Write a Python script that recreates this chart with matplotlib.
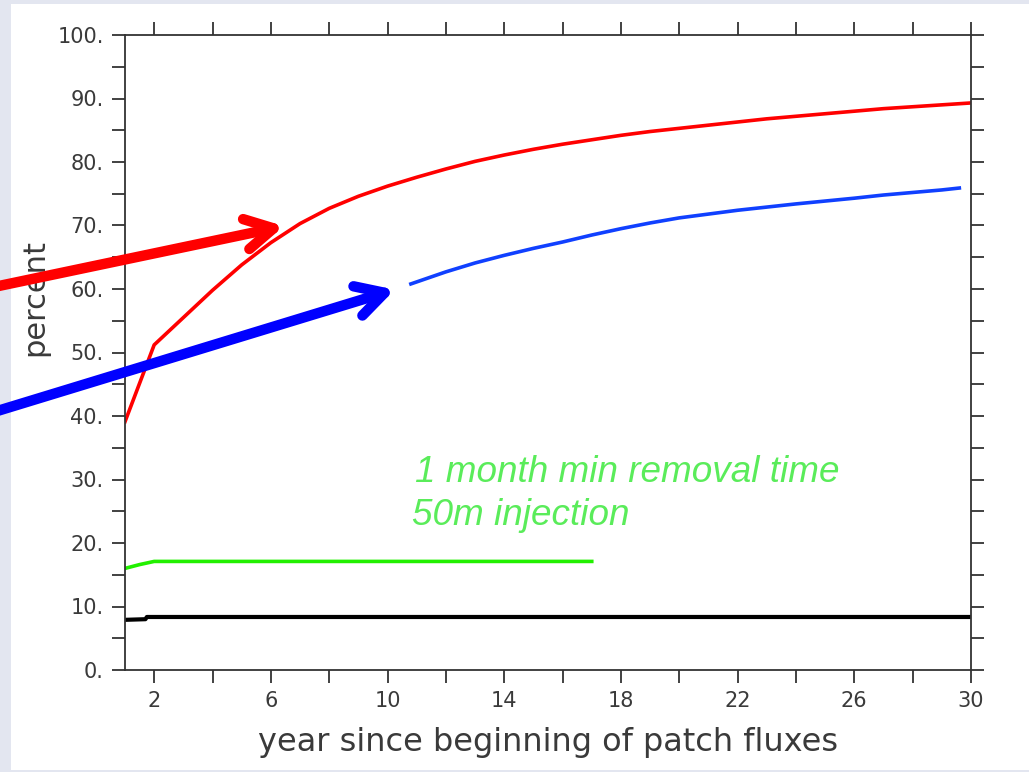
# 注入后各层保留比例随时间变化（重绘幻灯片里的 NCL 图）

import matplotlib
matplotlib.use("Agg")
from matplotlib import pyplot as plt
from matplotlib.patches import Rectangle

# 红线：逐年数据
red_years = [1, 2, 3, 4, 5, 6, 7, 8, 9, 10, 11, 12, 13, 14, 15,
             16, 17, 18, 19, 20, 21, 22, 23, 24, 25, 26, 27, 28, 29, 30]
red_pct = [39.1, 51.2, 55.5, 59.8, 63.8, 67.3, 70.3, 72.7, 74.6, 76.2,
           77.6, 78.9, 80.1, 81.1, 82.0, 82.8, 83.5, 84.2, 84.8, 85.3,
           85.8, 86.3, 86.8, 87.2, 87.6, 88.0, 88.4, 88.7, 89.0, 89.3]

# 蓝线：从第 11 年左右开始
blue_years = [10.8, 12, 13, 14, 15, 16, 17, 18, 19, 20,
              21, 22, 23, 24, 25, 26, 27, 28, 29, 29.6]
blue_pct = [60.8, 62.7, 64.1, 65.3, 66.4, 67.4, 68.5, 69.5, 70.4, 71.2,
            71.8, 72.4, 72.9, 73.4, 73.85, 74.3, 74.8, 75.2, 75.6, 75.9]

# 绿线 和 黑线
green_years = [1, 1.5, 2, 17]
green_pct = [16.0, 16.6, 17.1, 17.1]
black_years = [1, 1.7, 1.75, 30]
black_pct = [7.9, 8.0, 8.35, 8.35]

# 刻度
x_major = [2, 6, 10, 14, 18, 22, 26, 30]
x_minor = [4, 8, 12, 16, 20, 24, 28]
y_major = [0, 10, 20, 30, 40, 50, 60, 70, 80, 90, 100]
y_minor = [5, 15, 25, 35, 45, 55, 65, 75, 85, 95]
y_labels = ["%d." % v for v in y_major]

note_lines = ["1 month min removal time", "50m injection"]

ink = "#333333"

fig = plt.figure(figsize=(10.29, 7.72), dpi=100)
fig.patch.set_facecolor("#e3e6f0")
# 幻灯片白底
fig.add_artist(Rectangle((11 / 1029, 2 / 772), 1 - 11 / 1029, 766 / 772,
                         transform=fig.transFigure, facecolor="white",
                         edgecolor="none", zorder=-1))

ax = fig.add_axes([125 / 1029, 1 - 670 / 772, 846 / 1029, 635 / 772])
ax.set_facecolor("white")

ax.plot(red_years, red_pct, color="#ff0000", lw=2.6, solid_joinstyle="round")
ax.plot(blue_years, blue_pct, color="#1040ff", lw=2.6)
ax.plot(green_years, green_pct, color="#22f000", lw=2.6)
ax.plot(black_years, black_pct, color="black", lw=3.0)

ax.set_xlim(1, 30)
ax.set_ylim(0, 100)

ax.set_xticks(x_major)
ax.set_xticks(x_minor, minor=True)
ax.set_yticks(y_major)
ax.set_yticklabels(y_labels)
ax.set_yticks(y_minor, minor=True)

for which in ("major", "minor"):
    ax.tick_params(axis="both", which=which, direction="out", length=9.4,
                   width=1.3, color=ink, top=True, right=True,
                   labelsize=15, labelcolor="#3a3a3a")
ax.tick_params(axis="x", which="major", pad=6)
ax.tick_params(axis="y", which="major", pad=6)

for sp in ax.spines.values():
    sp.set_color(ink)
    sp.set_linewidth(1.3)

ax.set_xlabel("year since beginning of patch fluxes", fontsize=23, color="#3a3a3a")
ax.xaxis.set_label_coords(0.5, -0.09)
ax.set_ylabel("percent", fontsize=22, color="#3a3a3a")
ax.yaxis.set_label_coords(-0.09, 0.587)

# 绿色说明文字
ax.text(10.94, 29.6, note_lines[0], color="#5aec5a", fontsize=26.6,
        style="italic", family="Liberation Sans", va="baseline")
ax.text(10.85, 22.8, note_lines[1], color="#5aec5a", fontsize=26.6,
        style="italic", family="Liberation Sans", va="baseline")

# 指向曲线的箭头
head = "->,head_length=1.0,head_width=0.55"
ax.annotate("", xy=(6.45, 69.9), xycoords="data",
            xytext=(-6, 485), textcoords="figure pixels",
            annotation_clip=False,
            arrowprops=dict(arrowstyle=head, mutation_scale=20, lw=7.5,
                            color="#ff0000", shrinkA=0, shrinkB=0,
                            capstyle="round", joinstyle="round"))
ax.annotate("", xy=(10.25, 59.9), xycoords="data",
            xytext=(-6, 360), textcoords="figure pixels",
            annotation_clip=False,
            arrowprops=dict(arrowstyle=head, mutation_scale=20, lw=7.5,
                            color="#0000ff", shrinkA=0, shrinkB=0,
                            capstyle="round", joinstyle="round"))

plt.savefig("out.png", dpi=100, facecolor=fig.get_facecolor())
